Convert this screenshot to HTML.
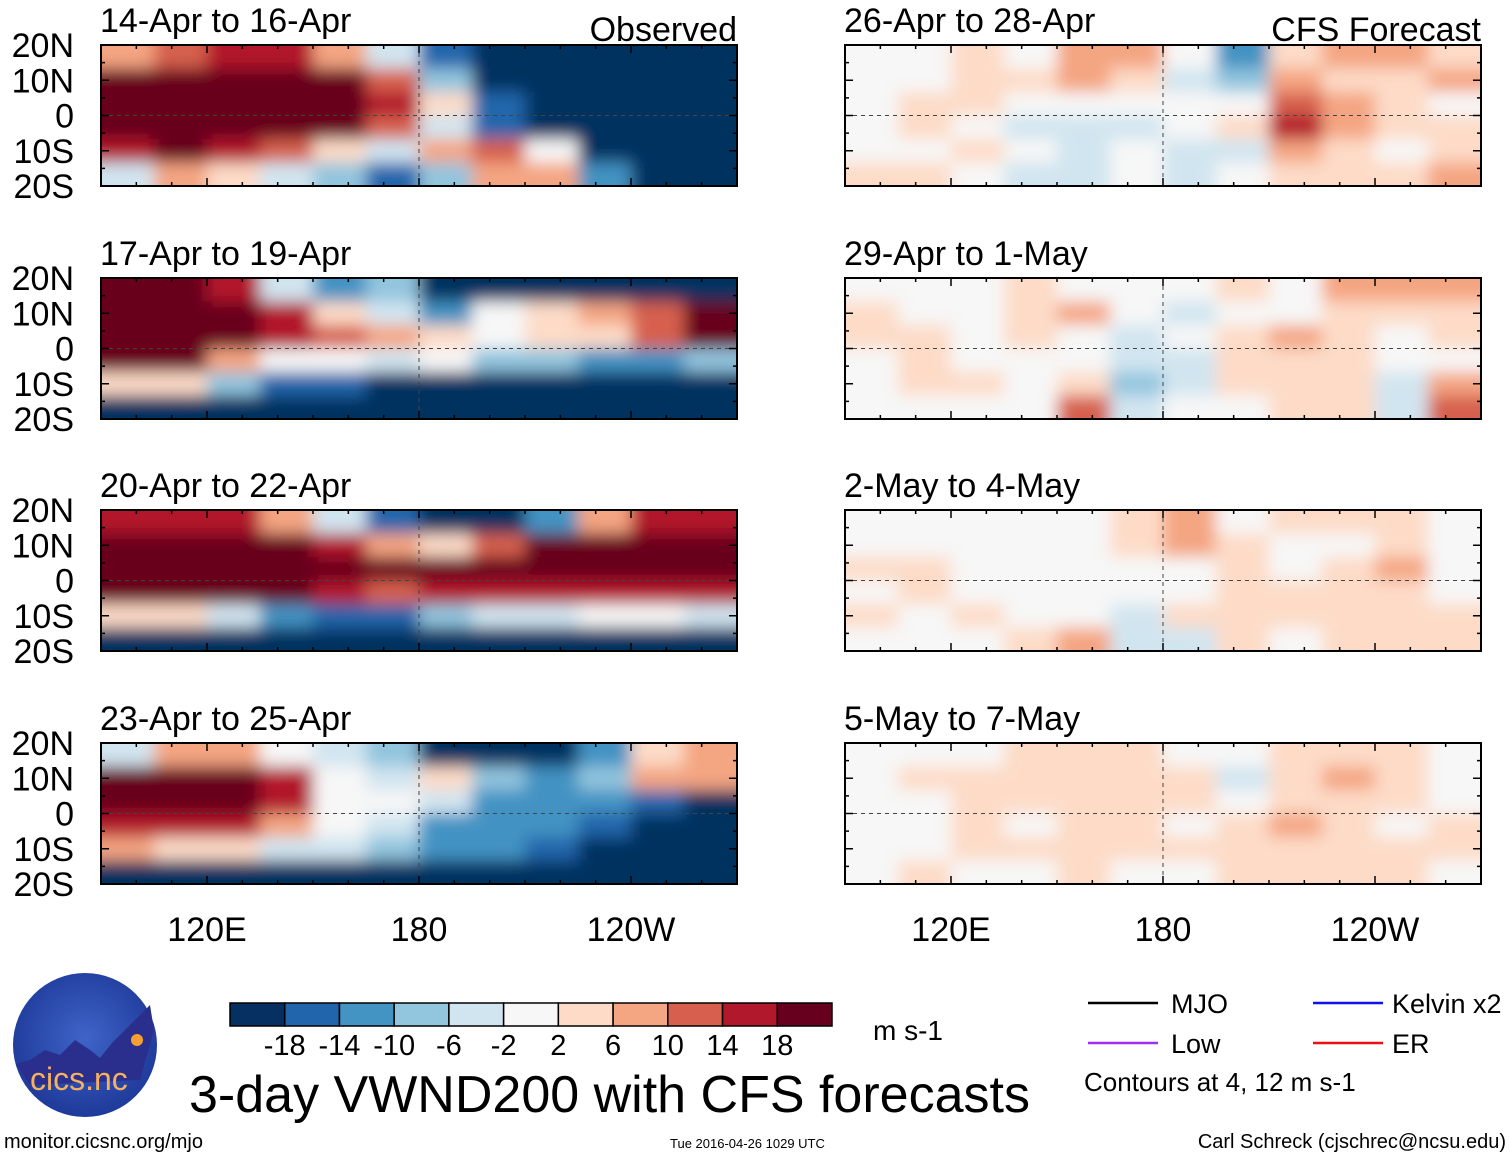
<!DOCTYPE html>
<html><head><meta charset="utf-8">
<style>
html,body{margin:0;padding:0;background:#fff;}
body{width:1510px;height:1158px;overflow:hidden;font-family:"Liberation Sans",sans-serif;}
svg text{font-family:"Liberation Sans",sans-serif;}
</style></head>
<body>
<svg id="chart" width="1510" height="1158" xmlns="http://www.w3.org/2000/svg">
<defs>
<filter id="blur" x="0" y="0" width="1" height="1"><feGaussianBlur stdDeviation="8" edgeMode="duplicate"/></filter>
<radialGradient id="logoGrad" cx="50%" cy="45%" r="55%"><stop offset="0" stop-color="#3f64c8"/><stop offset="1" stop-color="#1e3a9a"/></radialGradient>
</defs>
<g id="panels"></g>
<g id="colorbar"></g>
<g>
<circle cx="85" cy="1045" r="72" fill="url(#logoGrad)"/>
<path d="M16,1064 L30,1060 L45,1050 L60,1055 L75,1040 L90,1050 L100,1058 L112,1043 L125,1030 L150,1005 L154,1030 L140,1080 L30,1085 Z" fill="#2a2f8e"/>
<circle cx="137" cy="1040" r="6" fill="#f5a030"/>
<text x="30" y="1090" font-size="32" fill="#f5b060">cics.nc</text>
</g>
<text x="189" y="1112" font-size="52">3-day VWND200 with CFS forecasts</text>
<text x="873" y="1040" font-size="28">m s-1</text>
<g>
<line x1="1088" y1="1003" x2="1158" y2="1003" stroke="#000" stroke-width="2.5"/>
<text x="1171" y="1013" font-size="27">MJO</text>
<line x1="1313" y1="1003" x2="1383" y2="1003" stroke="#1010ee" stroke-width="2.5"/>
<text x="1392" y="1013" font-size="27">Kelvin x2</text>
<line x1="1088" y1="1043" x2="1158" y2="1043" stroke="#a030ee" stroke-width="2.5"/>
<text x="1171" y="1053" font-size="27">Low</text>
<line x1="1313" y1="1043" x2="1383" y2="1043" stroke="#ee1010" stroke-width="2.5"/>
<text x="1392" y="1053" font-size="27">ER</text>
<text x="1084" y="1091" font-size="26">Contours at 4, 12 m s-1</text>
</g>
<text x="4" y="1148" font-size="20">monitor.cicsnc.org/mjo</text>
<text x="670" y="1148" font-size="13">Tue 2016-04-26 1029 UTC</text>
<text x="1506" y="1148" font-size="20" text-anchor="end">Carl Schreck (cjschrec@ncsu.edu)</text>
</svg>
<script>
const titles = ["14-Apr to 16-Apr","17-Apr to 19-Apr","20-Apr to 22-Apr","23-Apr to 25-Apr","26-Apr to 28-Apr","29-Apr to 1-May","2-May to 4-May","5-May to 7-May"];
const latLabels = ["20N","10N","0","10S","20S"];
const lonTicks = [120,180,240];
const lonTickLabels = ["120E","180","120W"];
const cbLevels = ["-18","-14","-10","-6","-2","2","6","10","14","18"];
const cbColors = ["#053061","#2166ac","#4393c3","#92c5de","#d1e5f0","#f7f7f7","#fddbc7","#f4a582","#d6604d","#b2182b","#67001f"];
const field1 = [[6,10,14,14,6,-6,-18,-20,-20,-20,-20,-20],[20,20,20,20,18,10,-10,-20,-20,-20,-20,-20],[20,20,20,20,20,14,2,-18,-20,-20,-20,-20],[20,20,20,20,18,10,-6,-18,-20,-20,-20,-20],[14,20,14,10,2,-6,6,10,-2,-20,-20,-20],[-6,6,2,-6,-10,-18,-10,6,6,-14,-20,-20]];
const field2 = [[20,20,14,-6,-14,-10,-20,-20,-20,-20,-20,-20],[20,20,20,14,2,-6,-14,-2,2,6,10,20],[20,20,20,14,10,6,2,-2,2,2,10,20],[20,20,6,-2,-2,-6,-2,-10,-10,-14,-14,-10],[2,2,-10,-18,-18,-20,-20,-20,-20,-20,-20,-20],[-20,-20,-20,-20,-20,-20,-20,-20,-20,-20,-20,-20]];
const field3 = [[14,14,14,6,-6,-18,-20,-20,-14,6,14,14],[20,20,20,20,14,6,2,10,20,20,20,20],[20,20,20,20,20,20,18,20,20,20,20,20],[20,20,20,20,14,10,14,14,14,14,14,14],[2,2,-6,-14,-18,-18,-10,-6,-6,-2,-2,-6],[-20,-20,-20,-20,-20,-20,-20,-20,-20,-20,-20,-20]];
const field4 = [[-6,6,6,-2,-6,-10,-20,-20,-20,-14,2,6],[20,20,20,14,-2,-6,2,-10,-14,-10,6,6],[20,20,20,14,-2,-2,-6,-14,-14,-14,-18,-20],[14,14,14,6,-2,-6,-14,-14,-14,-18,-20,-20],[6,2,2,-6,-6,-10,-14,-14,-18,-20,-20,-20],[-20,-20,-20,-20,-20,-20,-20,-20,-20,-20,-20,-20]];
const field5 = [[0,0,2,0,6,6,-2,-14,2,6,6,2],[0,0,2,2,6,2,-6,-10,6,2,2,6],[0,2,2,-2,-2,-2,-2,-2,10,6,2,-2],[0,2,-2,-6,-6,-6,-2,2,14,6,2,2],[-2,0,2,-2,-6,-2,-6,-6,6,2,-2,2],[2,2,-2,-6,-6,-2,-6,-2,2,2,2,6]];
const field6 = [[0,0,0,2,0,-2,0,2,0,6,6,6],[2,0,0,2,6,-2,-6,-2,0,2,2,2],[2,2,0,2,-2,-6,-2,2,6,2,-2,2],[0,2,0,0,-2,-6,-6,2,2,2,-2,-2],[0,2,2,-2,2,-10,-6,2,2,2,-6,6],[0,-2,0,-2,10,-6,-2,0,2,2,-6,10]];
const field7 = [[0,0,0,0,0,2,6,-2,2,2,2,0],[0,0,0,0,0,2,6,2,-2,0,2,0],[2,2,0,-2,-2,-2,-2,2,-2,2,6,-2],[0,2,0,0,-2,-2,-2,2,2,2,2,-2],[2,0,2,-2,-2,-6,2,2,2,2,2,2],[0,0,0,2,6,-6,-6,2,0,2,2,2]];
const field8 = [[0,0,0,2,2,2,-2,-2,2,2,2,0],[0,2,2,2,2,2,2,-6,2,6,2,0],[0,0,2,2,2,2,2,-2,2,2,2,-2],[0,-2,2,0,2,2,-2,2,6,2,-2,2],[0,0,2,2,2,2,2,2,2,2,2,2],[0,2,0,0,2,-2,-2,2,2,2,2,0]];
const fields = [field1,field2,field3,field4,field5,field6,field7,field8];

const NS="http://www.w3.org/2000/svg";
function mk(t,a,p){const e=document.createElementNS(NS,t);for(const k in a)e.setAttribute(k,a[k]);p.appendChild(e);return e;}
function colorFor(v){const th=[-18,-14,-10,-6,-2,2,6,10,14,18];let i=0;while(i<th.length&&v>=th[i])i++;return cbColors[i];}
const PW=636, PH=141;
const lefts=[101,845], tops=[45,278,510,743];
const lon0=90, lon1=270, lat0=20, lat1=-20;
function xScale(px,lon){return px+(lon-lon0)/(lon1-lon0)*PW;}
function yScale(py,lat){return py+(lat0-lat)/(lat0-lat1)*PH;}
const panels=document.getElementById('panels');
fields.forEach((f,pi)=>{
  const px=lefts[pi<4?0:1], py=tops[pi%4];
  const g=mk('g',{},panels);
  
  
  const cid='clip'+pi;
  const cp=mk('clipPath',{id:cid},g); mk('rect',{x:px,y:py,width:PW,height:PH},cp);
  const cg=mk('g',{'clip-path':'url(#'+cid+')'},g);
  const hg=mk('g',{filter:'url(#blur)'},cg);
  const nr=f.length, nc=f[0].length;
  const dlon=(lon1-lon0)/nc, dlat=(lat0-lat1)/nr;
  f.forEach((row,r)=>row.forEach((v,c)=>{
    let x0=xScale(px,lon0+c*dlon), x1=xScale(px,lon0+(c+1)*dlon);
    let y0=yScale(py,lat0-r*dlat), y1=yScale(py,lat0-(r+1)*dlat);
    if(c===0)x0-=30; if(c===nc-1)x1+=30; if(r===0)y0-=30; if(r===nr-1)y1+=30;
    const cell=mk('rect',{x:x0,y:y0,width:x1-x0+0.5,height:y1-y0+0.5,fill:colorFor(v)},hg);
    
    
  }));
  mk('line',{x1:px,x2:px+PW,y1:yScale(py,0),y2:yScale(py,0),stroke:'#444','stroke-dasharray':'4,4','stroke-width':1},g);
  mk('line',{x1:xScale(px,180),x2:xScale(px,180),y1:py,y2:py+PH,stroke:'#444','stroke-dasharray':'4,4','stroke-width':1},g);
  mk('rect',{x:px,y:py,width:PW,height:PH,fill:'none',stroke:'#000','stroke-width':2},g);
  for(let lon=lon0;lon<=lon1;lon+=10){const x=xScale(px,lon);const major=lonTicks.includes(lon);
    mk('line',{x1:x,x2:x,y1:py,y2:py+(major?8:4),stroke:'#000','stroke-width':1.5},g);
    mk('line',{x1:x,x2:x,y1:py+PH,y2:py+PH-(major?8:4),stroke:'#000','stroke-width':1.5},g);}
  for(let lat=-20;lat<=20;lat+=5){const y=yScale(py,lat);const major=lat%10===0;
    mk('line',{x1:px,x2:px+(major?8:4),y1:y,y2:y,stroke:'#000','stroke-width':1.5},g);
    mk('line',{x1:px+PW,x2:px+PW-(major?8:4),y1:y,y2:y,stroke:'#000','stroke-width':1.5},g);}
  const t=mk('text',{x:px-1,y:py-13,'font-size':34},g); t.textContent=titles[pi];
   
  if(pi===0||pi===4){const s=mk('text',{x:px+PW,y:py-4,'font-size':34,'text-anchor':'end'},g);s.textContent=pi===0?'Observed':'CFS Forecast';
     }
  if(pi<4){latLabels.forEach((l,i)=>{const y=yScale(py,20-i*10);const tl=mk('text',{x:74,y:y+12,'font-size':34,'text-anchor':'end'},g);tl.textContent=l;
     });}
  if(pi%4===3){lonTicks.forEach((lon,i)=>{const tl=mk('text',{x:xScale(px,lon),y:941,'font-size':34,'text-anchor':'middle'},g);tl.textContent=lonTickLabels[i];
     });}
});
const cb=document.getElementById('colorbar');
const cbx=230, cbw=602/cbColors.length;
cbColors.forEach((c,i)=>{const r=mk('rect',{x:cbx+i*cbw,y:1003,width:cbw,height:23,fill:c,stroke:'#000','stroke-width':1.5},cb);
   });
cbLevels.forEach((l,i)=>{const t=mk('text',{x:cbx+(i+1)*cbw,y:1055,'font-size':29,'text-anchor':'middle'},cb);t.textContent=l;
   });
</script>
</body></html>
